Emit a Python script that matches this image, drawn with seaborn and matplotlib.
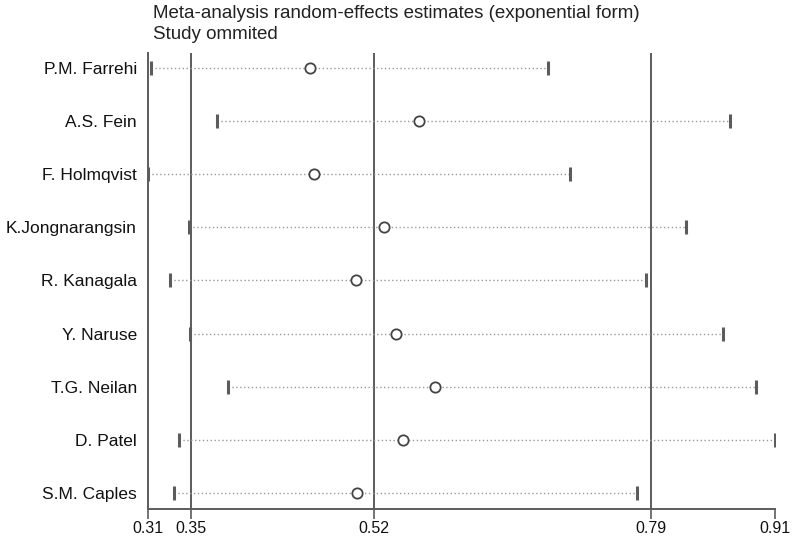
import matplotlib
matplotlib.use('Agg')
import matplotlib.pyplot as plt
import pandas as pd
import seaborn as sns
import numpy as np


studies = ['P.M. Farrehi', 'A.S. Fein', 'F. Holmqvist', 'K.Jongnarangsin', 'R. Kanagala',
           'Y. Naruse', 'T.G. Neilan', 'D. Patel', 'S.M. Caples']
estimate = [0.4657, 0.5703, 0.4698, 0.5365, 0.5097, 0.5480, 0.5856, 0.5547, 0.5103]
lower = [0.3135, 0.3763, 0.3105, 0.3495, 0.3317, 0.3505, 0.3868, 0.3400, 0.3358]
upper = [0.6940, 0.8676, 0.7148, 0.8258, 0.7872, 0.8612, 0.8925, 0.9110, 0.7789]

overall = 0.5268
overall_low = 0.3514
overall_high = 0.7926
tick_labels = ['0.31', '0.35', '0.52', '0.79', '0.91']

df = pd.DataFrame({'study': studies, 'est': estimate, 'lo': lower, 'hi': upper})
df['row'] = np.arange(len(df))

sns.set_style('white')
plt.rcParams['font.family'] = ['Liberation Sans', 'DejaVu Sans']

fig = plt.figure(figsize=(8, 5.39), dpi=100)
ax = fig.add_axes([148 / 800, 1 - 509 / 539, 627 / 800, 456 / 539])

line_col = '#5c5c5c'

# study omitted: dotted interval + caps + point estimate
ax.hlines(df['row'], df['lo'], df['hi'], colors='#999999', linestyles=(0, (1, 1.8)), linewidth=1)
sns.scatterplot(data=df, x='lo', y='row', marker='|', s=105, color=line_col, linewidth=2.2, ax=ax, zorder=3)
sns.scatterplot(data=df, x='hi', y='row', marker='|', s=105, color=line_col, linewidth=2.2, ax=ax, zorder=3)
sns.scatterplot(data=df, x='est', y='row', marker='o', s=55, facecolor='white',
                edgecolor='#444444', linewidth=1.3, ax=ax, zorder=4)

# overall estimate and its confidence limits
for v in [overall_low, overall, overall_high]:
    ax.axvline(v, color=line_col, linewidth=1.4, zorder=1)

xmin = df['lo'].min()
xmax = df['hi'].max()
ax.set_xlim(xmin, xmax)
ax.set_ylim(len(df) - 1 + 0.3, -0.28)

ax.set_xticks([xmin, overall_low, overall, overall_high, xmax])
ax.set_xticklabels(tick_labels)
ax.set_yticks(df['row'])
ax.set_yticklabels(df['study'])
ax.set_xlabel('')
ax.set_ylabel('')

ax.tick_params(axis='x', bottom=True, length=7, width=1.2, color=line_col, labelsize=11.5, pad=1.5,
               labelcolor='#111111')
ax.tick_params(axis='y', left=False, length=0, labelsize=12.5, pad=8, labelcolor='#111111')

for s in ['top', 'right']:
    ax.spines[s].set_visible(False)
for s in ['left', 'bottom']:
    ax.spines[s].set_color(line_col)
    ax.spines[s].set_linewidth(1.4)

fig.text(153 / 800, 1 - 18 / 539, 'Meta-analysis random-effects estimates (exponential form)',
         ha='left', va='baseline', fontsize=13.5, color='#222222')
fig.text(153 / 800, 1 - 39 / 539, 'Study ommited',
         ha='left', va='baseline', fontsize=13.5, color='#222222')

fig.savefig('out.png', dpi=100)
